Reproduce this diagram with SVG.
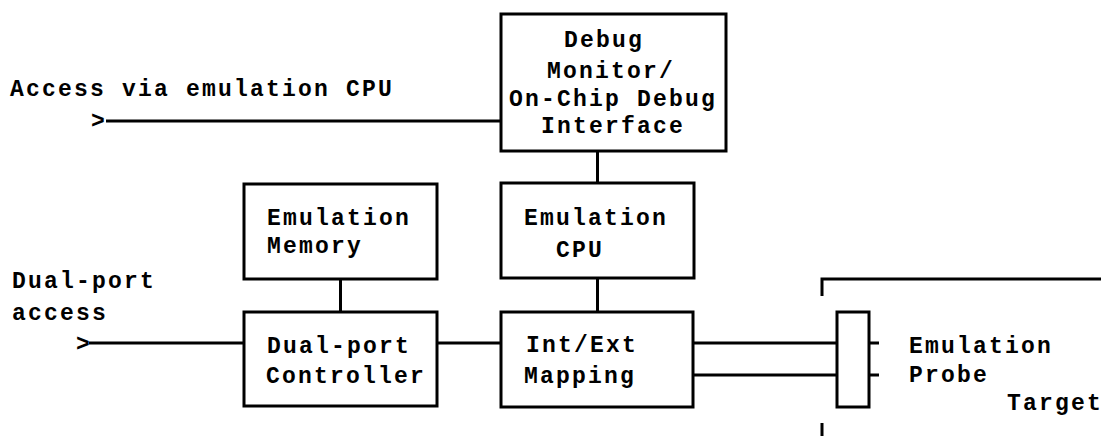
<svg xmlns="http://www.w3.org/2000/svg" width="1101" height="436" viewBox="0 0 1101 436">
<style>
  .box { fill: #fff; stroke: #000; stroke-width: 3; }
  .ln { fill: none; stroke: #000; stroke-width: 3; }
  text { font-family: "Liberation Mono", "Courier New", monospace; font-weight: bold; font-size: 23px; letter-spacing: 2.2px; fill: #000; }
</style>
<rect width="1101" height="436" fill="#fff"/>
<g id="connectors">
  <line class="ln" x1="106" y1="121" x2="501" y2="121"/>
  <line class="ln" x1="597.5" y1="151" x2="597.5" y2="183"/>
  <line class="ln" x1="597.5" y1="278" x2="597.5" y2="312"/>
  <line class="ln" x1="340.5" y1="279" x2="340.5" y2="312"/>
  <line class="ln" x1="89" y1="343" x2="244" y2="343"/>
  <line class="ln" x1="437" y1="343" x2="501" y2="343"/>
  <line class="ln" x1="693" y1="343" x2="837" y2="343"/>
  <line class="ln" x1="693" y1="375" x2="837" y2="375"/>
  <line class="ln" x1="869" y1="343" x2="879" y2="343"/>
  <line class="ln" x1="869" y1="375" x2="879" y2="375"/>
</g>
<g id="target">
  <path class="ln" d="M822,296 V279 H1101"/>
  <path class="ln" d="M822,423 V436"/>
  <text x="1007" y="410">Target</text>
</g>
<g id="access-cpu">
  <text x="10" y="96">Access via emulation CPU</text>
  <text x="91" y="128">&gt;</text>
</g>
<g id="access-dual">
  <text x="12" y="288">Dual-port</text>
  <text x="12" y="320">access</text>
  <text x="76" y="351">&gt;</text>
</g>
<g id="debug">
  <rect class="box" x="501" y="14" width="225" height="137"/>
  <text x="564" y="47">Debug</text>
  <text x="547" y="78">Monitor/</text>
  <text x="509" y="106">On-Chip Debug</text>
  <text x="541" y="133">Interface</text>
</g>
<g id="cpu">
  <rect class="box" x="501" y="183" width="193" height="95"/>
  <text x="524" y="225">Emulation</text>
  <text x="556" y="257">CPU</text>
</g>
<g id="memory">
  <rect class="box" x="244" y="184" width="193" height="95"/>
  <text x="267" y="225">Emulation</text>
  <text x="267" y="253">Memory</text>
</g>
<g id="dualport">
  <rect class="box" x="244" y="312" width="193" height="94"/>
  <text x="267" y="353">Dual-port</text>
  <text x="266" y="383">Controller</text>
</g>
<g id="mapping">
  <rect class="box" x="501" y="312" width="192" height="95"/>
  <text x="526" y="352">Int/Ext</text>
  <text x="524" y="383">Mapping</text>
</g>
<g id="probe">
  <rect class="box" x="837" y="312" width="32" height="95"/>
  <text x="909" y="353">Emulation</text>
  <text x="909" y="382">Probe</text>
</g>
</svg>
